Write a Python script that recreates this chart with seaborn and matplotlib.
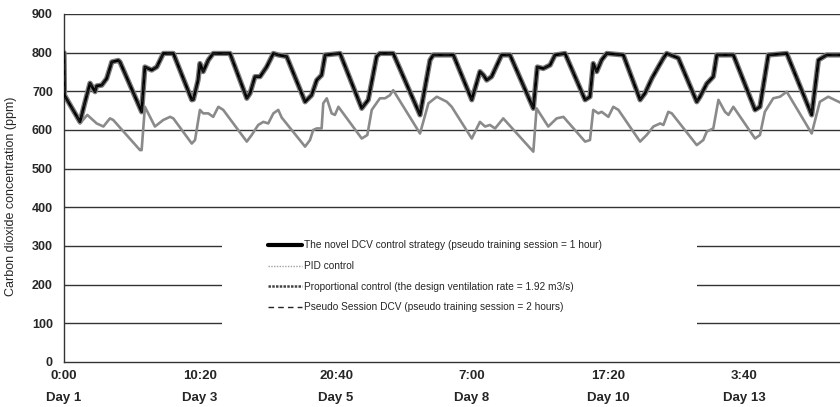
import numpy as np
import pandas as pd
import matplotlib
matplotlib.use("Agg")
import matplotlib.pyplot as plt
from matplotlib.lines import Line2D
from matplotlib.patches import Rectangle
import seaborn as sns

# ---- data (time in hours from start, CO2 in ppm) ----
novel_hours = [0, 0.2, 6.86, 9.0, 11.15, 13.3, 14.0, 16.2, 18.3, 20.5, 23.3, 24.0,
               33.3, 34.7, 37.6, 39.8, 42.6, 46.9, 54.8, 55.5, 57.5, 58.3, 59.7, 61.9,
               64.0, 71.2, 78.4, 79.8, 81.9, 84.1, 86.9, 89.8, 91.9, 95.5, 103.4, 106.2,
               108.4, 110.5, 112.0, 118.4, 127.7, 130.5, 134.1, 135.5, 141.2, 152.7, 157.0,
               158.4, 167.0, 174.9, 178.4, 179.9, 181.3, 183.4, 187.7, 191.3, 201.3, 203.0,
               205.6, 208.5, 210.6, 214.9, 223.5, 225.6, 227.0, 228.5, 230.6, 232.8, 239.9,
               247.1, 249.2, 252.1, 254.9, 257.1, 258.5, 263.5, 271.4, 272.8, 275.7, 278.5,
               280.0, 287.1, 296.4, 298.5, 302.1, 310.0, 320.7, 323.6, 327.1, 335.0]
novel_ppm = [800, 690, 621, 672, 721, 699, 714, 716, 733, 776, 780, 776,
             647, 763, 755, 763, 798, 798, 678, 679, 729, 772, 751, 781,
             798, 798, 682, 695, 738, 738, 763, 798, 794, 790, 673, 690,
             729, 742, 794, 798, 656, 678, 790, 798, 798, 639, 781,
             794, 794, 678, 751, 742, 729, 738, 794, 794, 656, 763,
             759, 768, 794, 798, 678, 686, 772, 751, 781, 798, 794,
             678, 695, 733, 763, 786, 798, 786, 673, 686, 720, 738,
             794, 794, 652, 660, 794, 798, 639, 781, 794, 794]

pid_hours = [0, 6.86, 10.0, 14.0, 16.9, 19.7, 21.1, 32.6, 33.3, 34.7, 39.0, 42.6, 45.5,
             46.9, 54.8, 56.2, 58.3, 59.7, 61.9, 64.0, 66.2, 68.3, 78.4, 80.5, 83.3,
             85.5, 87.6, 89.8, 91.9, 93.4, 103.4, 105.5, 106.9, 108.4, 110.5, 111.2,
             112.7, 114.8, 116.2, 117.7, 127.7, 130.1, 132.0, 135.5, 137.7, 139.8,
             141.2, 152.7, 156.3, 159.9, 164.2, 166.3, 174.9, 178.4, 180.6, 182.7,
             184.9, 188.4, 201.3, 202.7, 207.7, 211.3, 214.2, 223.5, 225.6, 227.0,
             229.2, 230.6, 233.5, 235.6, 237.8, 247.1, 249.9, 252.8, 255.7, 257.1,
             259.2, 260.7, 271.4, 274.2, 275.7, 278.5, 280.7, 283.5, 285.0, 287.1,
             296.4, 298.5, 300.6, 304.2, 307.1, 310.0, 320.7, 324.2, 327.8, 335.0]
pid_ppm = [699, 617, 639, 617, 609, 630, 626, 548, 548, 660, 609, 626, 634,
           630, 565, 574, 652, 643, 643, 634, 660, 652, 570, 587, 613,
           621, 617, 643, 652, 632, 557, 574, 600, 604, 604, 669,
           682, 643, 639, 660, 578, 587, 652, 682, 682, 690,
           703, 591, 669, 686, 673, 660, 578, 621, 609, 613,
           604, 630, 544, 656, 609, 630, 634, 570, 574, 652,
           643, 647, 634, 660, 652, 570, 587, 609, 617, 613,
           647, 643, 561, 574, 596, 604, 678, 647, 639, 660,
           578, 587, 647, 682, 686, 699, 591, 673, 686, 665]

# proportional control and pseudo session DCV lie on top of the novel strategy curve
prop_hours = novel_hours
prop_ppm = novel_ppm
pseudo_hours = novel_hours
pseudo_ppm = novel_ppm

series_names = [
    "The novel DCV control strategy (pseudo training session = 1 hour)",
    "PID control",
    "Proportional control (the design ventilation rate = 1.92 m3/s)",
    "Pseudo Session DCV (pseudo training session = 2 hours)",
]

tick_hours = [0, 58.333, 116.667, 175.0, 233.333, 291.667]
tick_times = ["0:00", "10:20", "20:40", "7:00", "17:20", "3:40"]
tick_days = ["Day 1", "Day 3", "Day 5", "Day 8", "Day 10", "Day 13"]
y_ticks = [0, 100, 200, 300, 400, 500, 600, 700, 800, 900]

# ---- build dataframe ----
frames = []
for name, h, v in zip(series_names,
                      [novel_hours, pid_hours, prop_hours, pseudo_hours],
                      [novel_ppm, pid_ppm, prop_ppm, pseudo_ppm]):
    frames.append(pd.DataFrame({"hours": h, "ppm": v, "series": name}))
df = pd.concat(frames, ignore_index=True)

sns.set_style("white")
plt.rcParams["font.family"] = ["Liberation Sans", "DejaVu Sans"]

fig = plt.figure(figsize=(8.4, 4.07), dpi=100)
ax = fig.add_axes([64 / 840, 45 / 407, 1 - 64 / 840, (362 - 14) / 407])

styles = {
    series_names[0]: dict(color="black", linewidth=1.9, zorder=4),
    series_names[1]: dict(color="#8a8a8a", linewidth=1.9, zorder=3),
    series_names[2]: dict(color="#7c7c7c", linewidth=3.8, zorder=2),
    series_names[3]: dict(color="#1a1a1a", linewidth=1.0, linestyle=(0, (5, 3)), zorder=5),
}
for name in series_names:
    sub = df[df["series"] == name]
    sns.lineplot(data=sub, x="hours", y="ppm", ax=ax, legend=False,
                 estimator=None, sort=False, **styles[name])

ax.set_xlim(0, (840 - 64) * 0.42892)
ax.set_ylim(0, 900)
ax.set_yticks(y_ticks)
ax.set_yticklabels([str(t) for t in y_ticks], fontsize=9, fontweight="bold")
ax.set_xticks(tick_hours)
ax.set_xticklabels([f"{t}\n{d}" for t, d in zip(tick_times, tick_days)],
                   fontsize=9.5, fontweight="bold", linespacing=2.1)
ax.grid(False)
for yv in y_ticks[1:]:
    ax.axhline(yv, color="#333333", linewidth=1.0, zorder=0)

ax.tick_params(axis="x", direction="out", length=4, width=0.8, color="#333333", pad=2)
ax.tick_params(axis="y", direction="out", length=5, width=0.8, color="#333333", pad=3)
ax.set_xlabel("")
ax.set_ylabel("Carbon dioxide concentration (ppm)", fontsize=9)
ax.yaxis.set_label_coords(-(64 - 17) / 776, (362 - 196) / 348)
for s in ["top", "right"]:
    ax.spines[s].set_visible(False)
for s in ["left", "bottom"]:
    ax.spines[s].set_color("#333333")
    ax.spines[s].set_linewidth(1.0)

# white background block behind legend
ax.add_patch(Rectangle(((222 - 64) / 776, (362 - 331) / 348), 475 / 776, 99 / 348,
                       transform=ax.transAxes, facecolor="white", edgecolor="none",
                       zorder=1))

handles = [
    Line2D([], [], color="black", linewidth=3.0),
    Line2D([], [], color="#a0a0a0", linewidth=1.0, linestyle=(0, (1, 1))),
    Line2D([], [], color="#444444", linewidth=1.8, linestyle=(0, (1, 0.5))),
    Line2D([], [], color="#222222", linewidth=1.0, linestyle=(0, (4, 3))),
]
leg = ax.legend(handles, series_names, loc="upper left",
                bbox_to_anchor=((268 - 64) / 776, (362 - 240.5) / 348),
                frameon=False, fontsize=7.25, handlelength=3.4, handletextpad=0.2,
                labelspacing=1.05, borderpad=0, borderaxespad=0)
leg.set_zorder(10)

fig.savefig("out.png", dpi=100)
